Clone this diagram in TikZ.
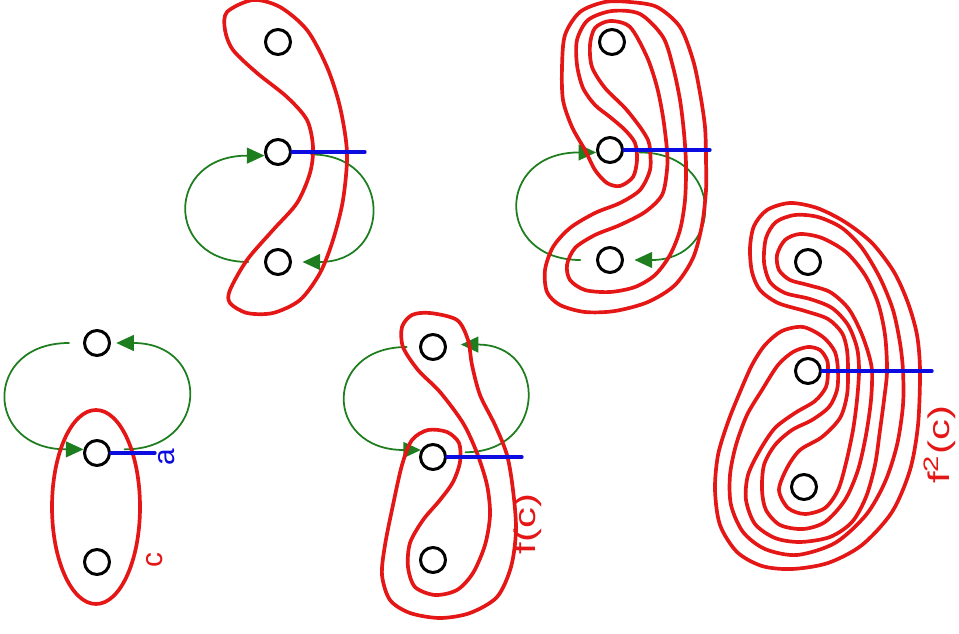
\documentclass[tikz,border=0pt]{standalone}
\usepackage{fontspec}
\setmainfont{Liberation Sans}
\usetikzlibrary{arrows.meta}
\definecolor{rd}{RGB}{228,22,22}
\definecolor{bl}{RGB}{12,12,225}
\definecolor{gr}{RGB}{30,125,30}
\tikzset{
  hole/.style={circle, draw=black, line width=1.7pt, minimum size=0.5cm, inner sep=0pt},
  curve/.style={draw=rd, line width=2.1pt},
  arcline/.style={draw=bl, line width=1.9pt},
  swap/.style={draw=gr, line width=1pt, -{Triangle[length=10pt,width=9pt]}, looseness=2.4},
  lbl/.style={rotate=90, font=\fontsize{17}{20}\selectfont, inner sep=0pt},
}
\begin{document}
\begin{tikzpicture}[x=0.02cm, y=-0.02cm, line join=round, line cap=round]
\useasboundingbox (0,0) rectangle (959,634);

% punctures
\node[hole] (tA) at (97,343) {};
\node[hole] (mA) at (97,453) {};
\node[hole] (bA) at (97,562) {};
\node[hole] (tB) at (278,42) {};
\node[hole] (mB) at (278,152) {};
\node[hole] (bB) at (278,262) {};
\node[hole] (tC) at (433,347) {};
\node[hole] (mC) at (433,457) {};
\node[hole] (bC) at (433,560) {};
\node[hole] (tD) at (612,42) {};
\node[hole] (mD) at (610,150) {};
\node[hole] (bD) at (610,260) {};
\node[hole] (tE) at (808,262) {};
\node[hole] (mE) at (808,371) {};
\node[hole] (bE) at (804,487) {};

% half twists
\draw[swap, shorten <=8pt] (tA.west) to[out=180, in=180] (mA.165);
\draw[swap, shorten <=8pt, shorten >=3pt] (mA.15) to[out=0, in=0] (tA.east);
\draw[swap, shorten <=9pt] (bB.west) to[out=180, in=180] (mB.195);
\draw[swap, shorten <=11pt, shorten >=6pt] (mB.-10) to[out=0, in=0] (bB.east);
\draw[swap, shorten <=7pt] (tC.west) to[out=180, in=180] (mC.150);
\draw[swap, shorten <=11pt, shorten >=8pt] (mC.20) to[out=0, in=0] (tC.10);
\draw[swap, shorten <=9pt] (bD.west) to[out=180, in=180] (mD.190);
\draw[swap, shorten <=9pt, shorten >=6pt] (mD.-10) to[out=0, in=0] (bD.east);

% c
\draw[curve] (96,507) ellipse [x radius=44, y radius=97];
% first step
\draw[curve] plot[smooth cycle] coordinates {(253,0) (280,7) (307,30) (327,67) (340,107)
  (347,153) (343,200) (333,240) (320,273) (300,300) (273,313) (247,313) (230,303)
  (230,290) (247,260) (273,230) (297,203) (310,173) (313,147) (307,120) (287,97)
  (257,73) (233,50) (225,30) (227,12)};
% f(c)
\draw[curve] plot[smooth cycle] coordinates {(430,313) (457,320) (468,340) (472,365)
  (480,395) (495,425) (507,455) (513,490) (516,530) (511,567) (497,597) (470,613)
  (440,618) (410,613) (390,600) (382,575) (385,545) (393,505) (402,465) (412,440)
  (428,430) (447,432) (459,443) (460,462) (453,482) (440,500) (423,520) (410,543)
  (408,567) (415,587) (435,595) (457,590) (473,573) (485,545) (490,515) (487,485)
  (477,453) (463,423) (440,392) (418,370) (403,347) (402,327) (412,315)};
% second step
\draw[curve] plot[smooth cycle] coordinates {(650,150) (650,170) (640,190) (620,203)
  (595,213) (570,228) (553,247) (545,270) (547,292) (560,305) (585,312) (615,311)
  (648,302) (675,285) (693,258) (702,225) (706,190) (706,160) (705,127) (700,93)
  (693,60) (680,27) (657,7) (630,2) (605,2) (580,12) (565,35) (562,67) (563,100)
  (572,127) (585,150) (595,170) (607,183) (620,186) (633,177) (637,160) (635,143)
  (625,130) (610,117) (595,105) (583,88) (577,65) (577,40) (588,20) (612,11) (640,14)
  (663,37) (673,67) (680,100) (684,133) (686,165) (685,200) (680,230) (670,255)
  (655,275) (635,287) (610,292) (585,290) (570,280) (567,265) (575,248) (595,235)
  (620,225) (645,212) (662,195) (667,170) (667,150) (663,117) (657,87) (647,57)
  (630,27) (610,21) (595,28) (590,45) (592,67) (605,88) (625,108) (640,127) (648,140)};
% f^2(c)
\draw[curve] plot[smooth cycle] coordinates {(920,371) (917,335) (908,303) (894,272)
  (872,243) (845,222) (817,208) (790,203) (767,210) (754,226) (750,248) (752,272)
  (760,290) (778,303) (805,311) (828,319) (842,333) (847,350) (848,371)
  (847,395) (840,418) (822,437) (800,450) (787,468) (779,490) (788,508) (805,514)
  (825,508) (838,490) (846,463) (853,430) (857,400) (859,371)
  (857,348) (848,325) (832,308) (810,299) (785,293) (770,282) (764,262) (766,238)
  (776,222) (795,215) (818,217) (842,228) (862,248) (880,278) (893,310) (900,343) (903,371)
  (903,405) (897,445) (885,482) (866,515) (835,543) (797,555) (765,549) (743,532)
  (731,505) (730,475) (736,445) (747,415) (762,390) (778,365) (793,352) (808,347)
  (820,350) (827,360) (828,371)
  (826,387) (815,401) (795,413) (775,428) (760,450) (748,475) (746,500) (755,524)
  (775,538) (800,542) (830,537) (852,522) (866,497) (875,465) (880,430) (884,400) (887,371)
  (885,335) (878,303) (865,275) (846,252) (822,238) (800,234) (785,240) (777,255)
  (779,270) (790,280) (808,285) (830,292) (848,308) (860,330) (868,352) (872,371)
  (871,400) (866,435) (858,470) (845,500) (825,522) (803,529) (780,525) (766,510)
  (762,490) (764,465) (775,445) (792,430) (812,420) (829,407) (837,390) (838,371)
  (835,352) (823,337) (803,327) (782,331) (765,345) (752,365) (740,392) (728,422)
  (718,455) (715,490) (720,525) (737,552) (762,566) (792,569) (828,563) (862,545)
  (892,512) (910,470) (918,425)};

% arcs
\coordinate (aA) at (155,453);
\coordinate (aB) at (365,152);
\coordinate (aC) at (522,457);
\coordinate (aD) at (710,150);
\coordinate (aE) at (932,371);
\draw[arcline] (mA) -- (aA);
\draw[arcline] (mB) -- (aB);
\draw[arcline] (mC) -- (aC);
\draw[arcline] (mD) -- (aD);
\draw[arcline] (mE) -- (aE);

% labels
\node[lbl, text=bl] (la) at (167,457) {a};
\node[lbl, text=rd] (lc) at (155,560) {c};
\node[lbl, text=rd] (lfc) at (528,524) {\scalebox{1.4}[1]{f(c)}};
\node[lbl, text=rd] (lffc) at (940,445) {\scalebox{1.4}[1]{f\textsuperscript{2}(c)}};
\end{tikzpicture}
\end{document}
